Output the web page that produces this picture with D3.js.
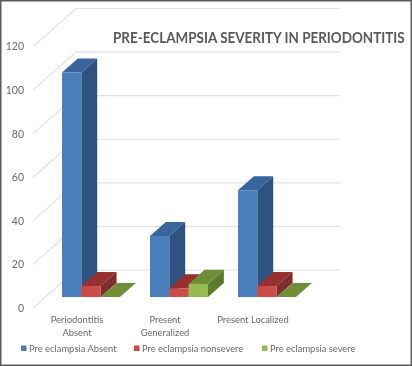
<!DOCTYPE html>
<html>
<head>
<meta charset="utf-8">
<script src="https://cdn.jsdelivr.net/npm/d3@7"></script>
<style>
  html, body {margin:0; padding:0; background:#fff;}
  svg {display:block;}
  text {font-family:Lato, sans-serif; fill:#6a6a6a;}
  .plot {filter:blur(0.4px);}
</style>
</head>
<body>
<svg width="412" height="366"></svg>
<script>
var title = "PRE-ECLAMPSIA SEVERITY IN PERIODONTITIS";
var categories = ["Periodontitis Absent", "Present Generalized", "Present Localized"];
var categoryLines = [["Periodontitis", "Absent"], ["Present", "Generalized"], ["Present Localized"]];
var seriesNames = ["Pre eclampsia Absent", "Pre eclampsia nonsevere", "Pre eclampsia severe"];
var absent = [103, 28, 49];
var nonsevere = [5, 4, 5];
var severe = [0, 6, 0];
var yTicks = [0, 20, 40, 60, 80, 100, 120];
var seriesValues = [absent, nonsevere, severe];

// front, top, side shades per series
var shades = [
  ["#4a7ebb", "#38659c", "#2f5380"],
  ["#cb4b47", "#97302e", "#7d2d2b"],
  ["#98bb50", "#6f8e37", "#5e7a2e"]
];
var legendX = [21, 134, 262];

var svg = d3.select("svg"),
    width = +svg.attr("width"),
    height = +svg.attr("height");
var plot = svg.append("g").attr("class", "plot");

var depthX = 43, depthY = -38, barNear = 0.29, barFar = 0.66;

var y = d3.scaleLinear().domain([0, 120]).range([308, 46.5]);
var x0 = d3.scaleBand().domain(categories).range([33, 297]);
var x1 = d3.scaleBand().domain(seriesNames).range([16.5, 74.5]);

function pt(px, value, depth) {
  return [px + depth * depthX, y(value) + depth * depthY];
}
function poly(points) {
  return "M" + points.map(function(p) { return p.join(","); }).join("L") + "Z";
}

// walls
var grid = plot.append("g").attr("fill", "none").attr("stroke", "#e2e2e2").attr("stroke-width", 1.2);
yTicks.forEach(function(t) {
  var a = pt(33, t, 0), b = pt(33, t, 1), c = pt(297, t, 1);
  grid.append("path").attr("d", "M" + a.join(",") + "L" + b.join(",") + "L" + c.join(","));
});

// squeezed to the Calibri-like width of the original
var titleText = plot.append("text")
    .attr("font-size", 14.5)
    .attr("font-weight", 700)
    .style("fill", "#595959")
    .text(title);
titleText.attr("transform", "translate(113,43) scale(" + (292 / titleText.node().getComputedTextLength()) + ",1)");

// bars
categories.forEach(function(cat, i) {
  seriesNames.forEach(function(name, s) {
    var v = seriesValues[s][i];
    var l = x0(cat) + x1(name), r = l + x1.bandwidth();
    var g = plot.append("g");
    g.append("path").attr("fill", shades[s][1])
      .attr("d", poly([pt(l, v, barNear), pt(r, v, barNear), pt(r, v, barFar), pt(l, v, barFar)]));
    if (v > 0) {
      g.append("path").attr("fill", shades[s][2])
        .attr("d", poly([pt(r, 0, barNear), pt(r, v, barNear), pt(r, v, barFar), pt(r, 0, barFar)]));
      g.append("path").attr("fill", shades[s][0])
        .attr("d", poly([pt(l, 0, barNear), pt(r, 0, barNear), pt(r, v, barNear), pt(l, v, barNear)]));
    }
  });
});

// y axis labels
var yAxis = plot.append("g")
    .attr("transform", "translate(33,0)")
    .call(d3.axisLeft(y).tickValues(yTicks).tickSize(0).tickPadding(9));
yAxis.select(".domain").remove();
yAxis.selectAll("text").attr("font-size", 10.5).attr("font-family", null);

// category labels
categories.forEach(function(cat, i) {
  var t = plot.append("text")
      .attr("text-anchor", "middle")
      .attr("font-size", 9.4);
  categoryLines[i].forEach(function(line, j) {
    t.append("tspan")
      .attr("x", x0(cat) + x0.bandwidth() / 2)
      .attr("y", 323 + j * 13)
      .text(line);
  });
});

// legend
seriesNames.forEach(function(name, s) {
  plot.append("rect")
      .attr("x", legendX[s])
      .attr("y", 345.5)
      .attr("width", 5.5)
      .attr("height", 5.5)
      .attr("fill", shades[s][0]);
  plot.append("text")
      .attr("x", legendX[s] + 8)
      .attr("y", 351.5)
      .attr("font-size", 9.4)
      .text(name);
});

// picture frame
svg.append("rect")
    .attr("x", 0.75).attr("y", 0.75)
    .attr("width", width - 1.5).attr("height", height - 1.5)
    .attr("fill", "none")
    .attr("stroke", "#5c5c5c")
    .attr("stroke-width", 1.5);
</script>
</body>
</html>
